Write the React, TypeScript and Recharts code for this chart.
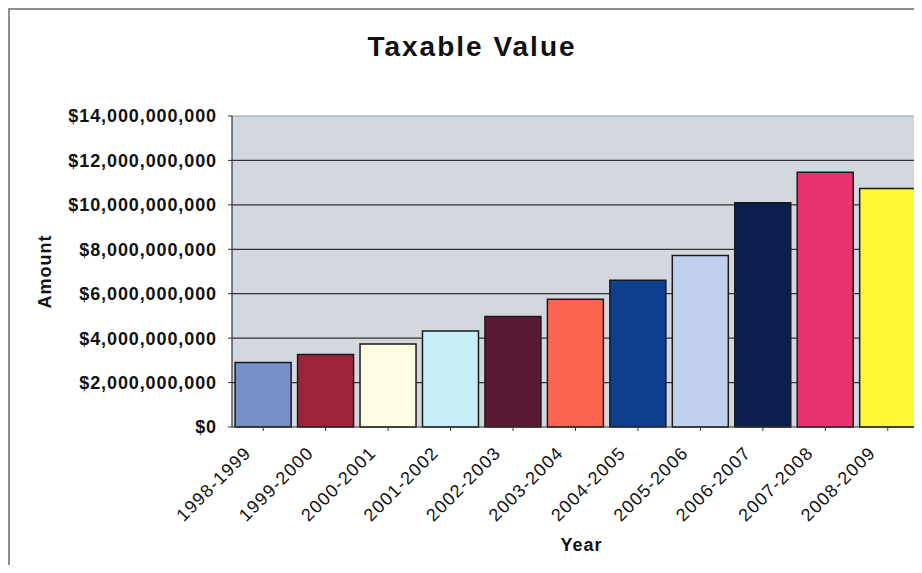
import React from "react";
import {
  Bar,
  BarChart,
  CartesianGrid,
  Cell,
  ReferenceLine,
  XAxis,
  YAxis,
} from "recharts";

const years = [
  "1998-1999",
  "1999-2000",
  "2000-2001",
  "2001-2002",
  "2002-2003",
  "2003-2004",
  "2004-2005",
  "2005-2006",
  "2006-2007",
  "2007-2008",
  "2008-2009",
];

const taxableValue = [
  2.9e9, 3.26e9, 3.74e9, 4.32e9, 4.97e9, 5.75e9, 6.61e9, 7.72e9, 10.09e9, 11.47e9, 10.74e9,
];

const barColors = [
  "#7590c6",
  "#9c2438",
  "#fffde2",
  "#c6eff8",
  "#5a1a36",
  "#fa6450",
  "#0d3f8c",
  "#c2d0f0",
  "#0b1f4c",
  "#e8336e",
  "#fff736",
];

const yTicks = [0, 2e9, 4e9, 6e9, 8e9, 10e9, 12e9, 14e9];

const data = years.map((year, i) => ({ year, value: taxableValue[i] }));

const FONT = '"Liberation Sans", Arial, sans-serif';

const formatDollar = (v: number) => "$" + v.toLocaleString("en-US");

const YearTick = (props: any) => {
  const { x, y, payload } = props;
  return (
    <g transform={`translate(${x},${y})`}>
      <text
        x={-11}
        y={21}
        textAnchor="end"
        transform="rotate(-45 -11 21)"
        fontFamily={FONT}
        fontSize={18}
        letterSpacing={1.2}
        fill="#111"
      >
        {payload.value}
      </text>
    </g>
  );
};

export default function App() {
  return (
    <div
      style={{
        position: "relative",
        width: 912,
        height: 563,
        borderLeft: "2px solid #8e8e8e",
        borderTop: "2px solid #8e8e8e",
        marginBottom: -8,
        background: "#fff",
        overflow: "hidden",
      }}
    >
      <div
        style={{
          position: "absolute",
          top: 23,
          left: 462,
          transform: "translateX(-50%)",
          fontFamily: FONT,
          fontWeight: "bold",
          fontSize: 28,
          letterSpacing: 2,
          lineHeight: 1,
          whiteSpace: "nowrap",
          color: "#111",
        }}
      >
        Taxable Value
      </div>
      <BarChart
        width={912}
        height={563}
        data={data}
        margin={{ top: 106, right: 3, left: 0, bottom: 0 }}
        barCategoryGap="5%"
      >
        <CartesianGrid
          vertical={false}
          horizontalValues={[2e9, 4e9, 6e9, 8e9, 10e9, 12e9]}
          stroke="#333"
          strokeWidth={1.2}
          fill="#d3d8df"
        />
        <XAxis
          dataKey="year"
          interval={0}
          height={146}
          tick={<YearTick />}
          tickSize={4}
          tickLine={{ stroke: "#333" }}
          axisLine={{ stroke: "#333", strokeWidth: 1.2 }}
          label={{
            value: "Year",
            position: "insideBottom",
            offset: 22,
            dx: 6,
            style: { fontFamily: FONT, fontWeight: "bold", fontSize: 18, letterSpacing: 1, fill: "#111" },
          }}
        />
        <YAxis
          width={222}
          domain={[0, 14e9]}
          ticks={yTicks}
          tickFormatter={formatDollar}
          tickSize={4}
          tickMargin={11}
          tickLine={{ stroke: "#333" }}
          axisLine={{ stroke: "#333", strokeWidth: 1.2 }}
          tick={{ fontFamily: FONT, fontWeight: "bold", fontSize: 18, letterSpacing: 0.9, fill: "#111" }}
          label={{
            value: "Amount",
            angle: -90,
            position: "insideLeft",
            offset: 35,
            style: { fontFamily: FONT, fontWeight: "bold", fontSize: 18, letterSpacing: 1, fill: "#111", textAnchor: "middle" },
          }}
        />
        <ReferenceLine y={14e9} stroke="#999" />
        <ReferenceLine x={years[years.length - 1]} position="end" stroke="#999" strokeWidth={1.5} />
        <Bar dataKey="value" stroke="#1a1a1a" strokeWidth={1.5} isAnimationActive={false}>
          {data.map((d, i) => (
            <Cell key={d.year} fill={barColors[i]} />
          ))}
        </Bar>
      </BarChart>
    </div>
  );
}
